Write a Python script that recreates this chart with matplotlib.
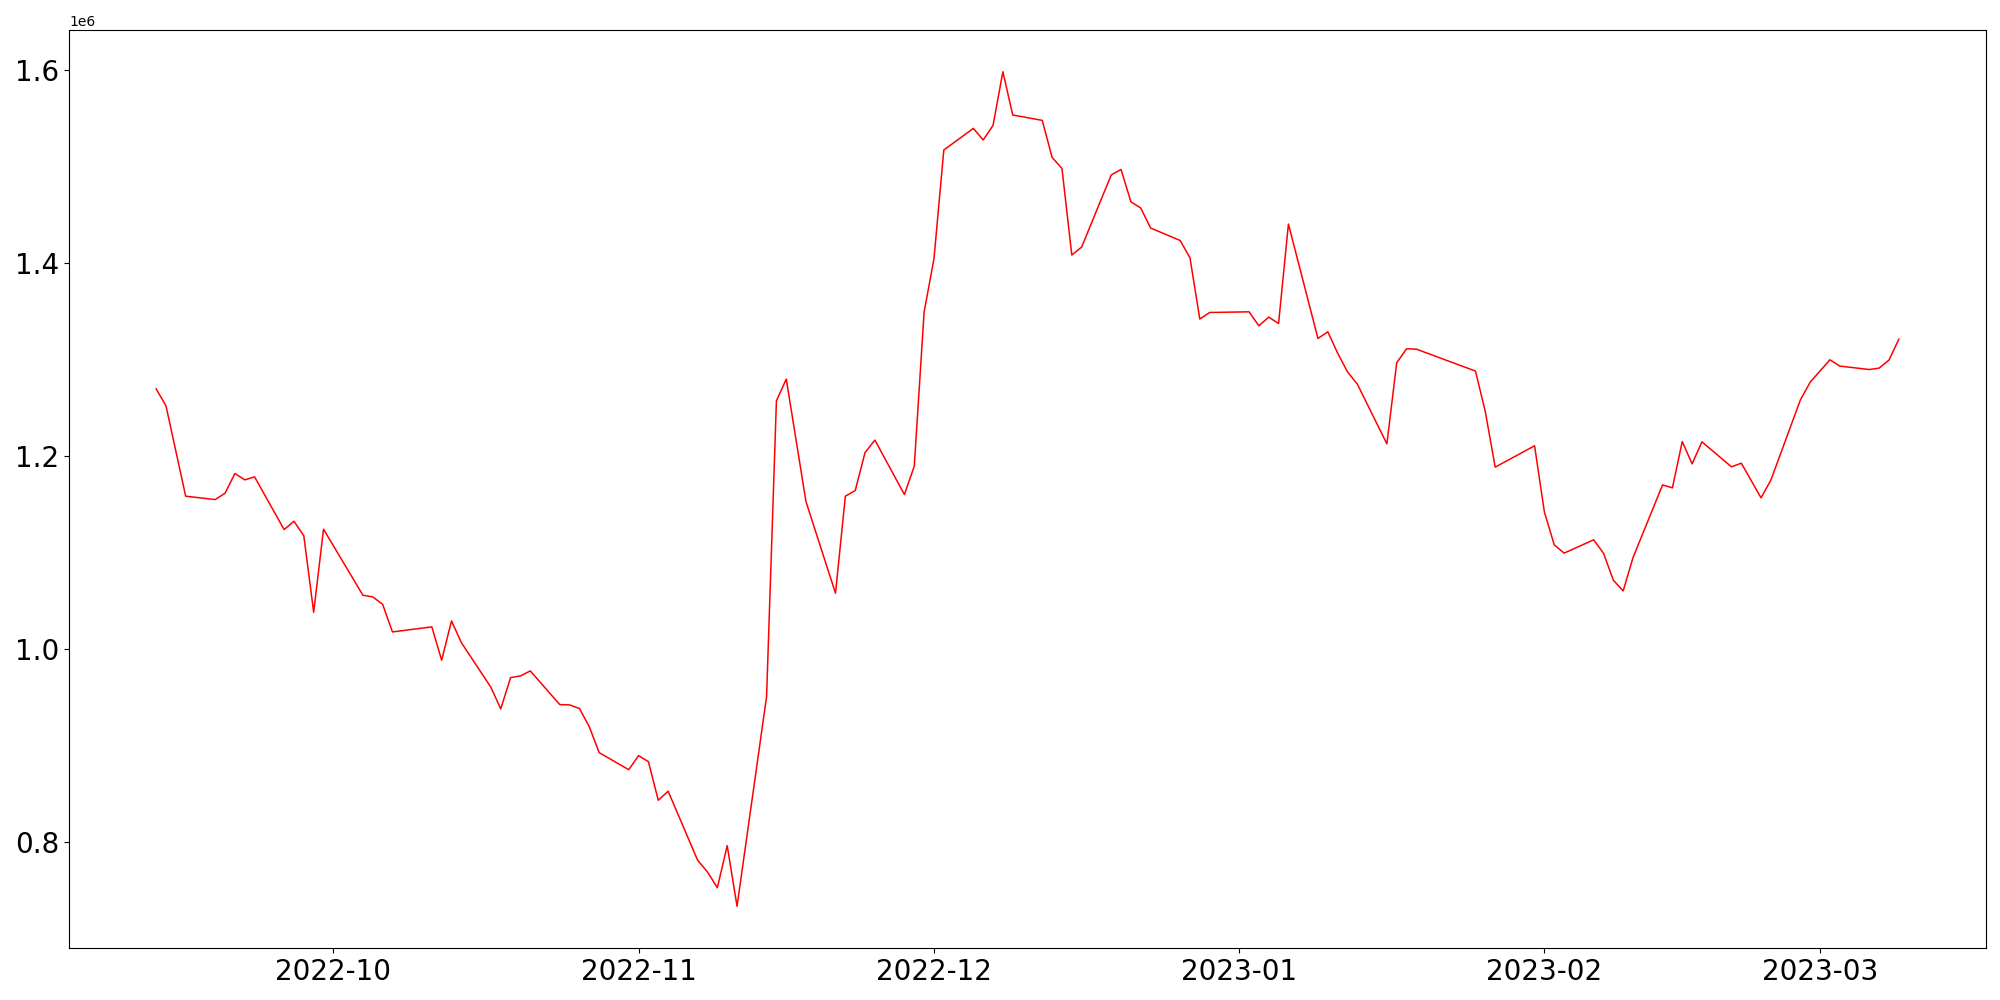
"""Plot the daily value series as a single red line."""
import matplotlib
matplotlib.use("Agg")
import matplotlib.pyplot as plt
import pandas as pd

dates = [
    "2022-09-13", "2022-09-14", "2022-09-16", "2022-09-19", "2022-09-20", "2022-09-21",
    "2022-09-22", "2022-09-23", "2022-09-26", "2022-09-27", "2022-09-28", "2022-09-29",
    "2022-09-30", "2022-10-04", "2022-10-05", "2022-10-06", "2022-10-07", "2022-10-11",
    "2022-10-12", "2022-10-13", "2022-10-14", "2022-10-17", "2022-10-18", "2022-10-19",
    "2022-10-20", "2022-10-21", "2022-10-24", "2022-10-25", "2022-10-26", "2022-10-27",
    "2022-10-28", "2022-10-31", "2022-11-01", "2022-11-02", "2022-11-03", "2022-11-04",
    "2022-11-07", "2022-11-08", "2022-11-09", "2022-11-10", "2022-11-11", "2022-11-14",
    "2022-11-15", "2022-11-16", "2022-11-18", "2022-11-21", "2022-11-22", "2022-11-23",
    "2022-11-24", "2022-11-25", "2022-11-28", "2022-11-29", "2022-11-30", "2022-12-01",
    "2022-12-02", "2022-12-05", "2022-12-06", "2022-12-07", "2022-12-08", "2022-12-09",
    "2022-12-12", "2022-12-13", "2022-12-14", "2022-12-15", "2022-12-16", "2022-12-19",
    "2022-12-20", "2022-12-21", "2022-12-22", "2022-12-23", "2022-12-26", "2022-12-27",
    "2022-12-28", "2022-12-29", "2023-01-02", "2023-01-03", "2023-01-04", "2023-01-05",
    "2023-01-06", "2023-01-09", "2023-01-10", "2023-01-11", "2023-01-12", "2023-01-13",
    "2023-01-16", "2023-01-17", "2023-01-18", "2023-01-19", "2023-01-25", "2023-01-26",
    "2023-01-27", "2023-01-31", "2023-02-01", "2023-02-02", "2023-02-03", "2023-02-06",
    "2023-02-07", "2023-02-08", "2023-02-09", "2023-02-10", "2023-02-13", "2023-02-14",
    "2023-02-15", "2023-02-16", "2023-02-17", "2023-02-20", "2023-02-21", "2023-02-23",
    "2023-02-24", "2023-02-27", "2023-02-28", "2023-03-02", "2023-03-03", "2023-03-06",
    "2023-03-07", "2023-03-08", "2023-03-09",
]

values = [
    1269400, 1251800, 1158200, 1154700, 1161300, 1181700,
    1175100, 1178200, 1123600, 1132300, 1117100, 1038000,
    1124000, 1055600, 1053900, 1046300, 1017600, 1022800,
    988300, 1029000, 1006500, 960300, 937800, 970300,
    972000, 977200, 942300, 942000, 938200, 919200,
    892500, 874900, 889400, 883200, 843200, 852600,
    781000, 768900, 752600, 796200, 733400, 950600,
    1257000, 1279500, 1152600, 1057700, 1158200, 1164000,
    1203400, 1216300, 1159900, 1189300, 1349000, 1404100,
    1516800, 1539200, 1527200, 1542300, 1597900, 1553100,
    1547500, 1509100, 1497700, 1408000, 1416300, 1490900,
    1496700, 1463200, 1456700, 1436000, 1423100, 1405200,
    1341700, 1348500, 1349200, 1334700, 1343700, 1337100,
    1440100, 1321600, 1328500, 1306400, 1287000, 1274300,
    1212400, 1296400, 1310900, 1310500, 1287800, 1245600,
    1188300, 1210400, 1141700, 1107800, 1099200, 1113000,
    1099200, 1071200, 1060100, 1094600, 1169900, 1166800,
    1214800, 1191700, 1214500, 1188600, 1192400, 1156500,
    1174800, 1258000, 1276400, 1299500, 1293000, 1289400,
    1290900, 1299200, 1320900,
]

x_data = pd.to_datetime(dates)

fig, axe = plt.subplots(figsize=(20, 10), dpi=100)
axe.plot(x_data, values, color="red", linewidth=1.1)
axe.tick_params(axis="both", labelsize=20)

fig.subplots_adjust(left=0.0345, right=0.993, bottom=0.052, top=0.970)
fig.savefig("out.png")
